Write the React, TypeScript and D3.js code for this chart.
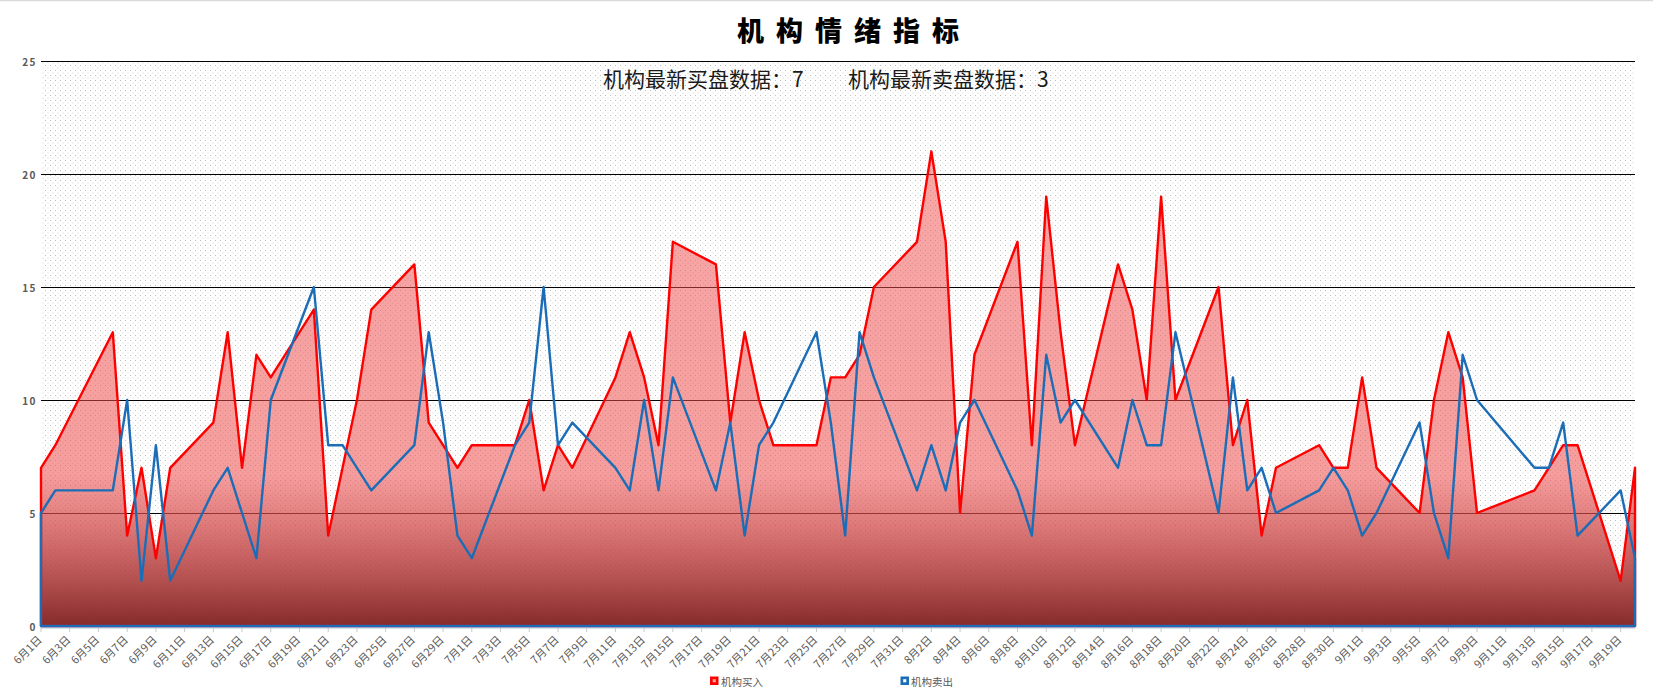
import React from "react";
import * as d3 from "d3";

// ---- data (2022, trading days) ----
const tradeDates = [
  "6/1", "6/2", "6/6", "6/7", "6/8", "6/9", "6/10", "6/13", "6/14", "6/15", "6/16", "6/17",
  "6/20", "6/21", "6/22", "6/23", "6/24", "6/27", "6/28", "6/29", "6/30",
  "7/1", "7/4", "7/5", "7/6", "7/7", "7/8", "7/11", "7/12", "7/13", "7/14", "7/15",
  "7/18", "7/19", "7/20", "7/21", "7/22", "7/25", "7/26", "7/27", "7/28", "7/29",
  "8/1", "8/2", "8/3", "8/4", "8/5", "8/8", "8/9", "8/10", "8/11", "8/12",
  "8/15", "8/16", "8/17", "8/18", "8/19", "8/22", "8/23", "8/24", "8/25", "8/26",
  "8/29", "8/30", "8/31", "9/1", "9/2", "9/5", "9/6", "9/7", "9/8", "9/9",
  "9/13", "9/14", "9/15", "9/16", "9/19", "9/20",
];

const buyValues = [
  7, 8, 13, 4, 7, 3, 7, 9, 13, 7, 12, 11,
  14, 4, 7, 10, 14, 16, 9, 8, 7,
  8, 8, 10, 6, 8, 7, 11, 13, 11, 8, 17,
  16, 9, 13, 10, 8, 8, 11, 11, 12, 15,
  17, 21, 17, 5, 12, 17, 8, 19, 13, 8,
  16, 14, 10, 19, 10, 15, 8, 10, 4, 7,
  8, 7, 7, 11, 7, 5, 10, 13, 11, 5,
  6, 7, 8, 8, 2, 7,
];

const sellValues = [
  5, 6, 6, 10, 2, 8, 2, 6, 7, 5, 3, 10,
  15, 8, 8, 7, 6, 8, 13, 9, 4,
  3, 8, 9, 15, 8, 9, 7, 6, 10, 6, 11,
  6, 9, 4, 8, 9, 13, 9, 4, 13, 11,
  6, 8, 6, 9, 10, 6, 4, 12, 9, 10,
  7, 10, 8, 8, 13, 5, 11, 6, 7, 5,
  6, 7, 6, 4, 5, 9, 5, 3, 12, 10,
  7, 7, 9, 4, 6, 3,
];

const yTicks = [0, 5, 10, 15, 20, 25];
const axisStart = "6/1";
const axisEnd = "9/20";
const year = 2022;
const titleText = "机构情绪指标";
const seriesNames = ["机构买入", "机构卖出"];
const latestLabels = ["机构最新买盘数据：", "机构最新卖盘数据："];

// ---- layout ----
const W = 1653;
const H = 695;
const plotLeft = 41;
const plotRight = 1635;
const plotTop = 61;
const plotBottom = 626;
const FONT = "'Noto Sans CJK SC', 'Noto Sans', sans-serif";

const parse = (s: string) => {
  const [m, d] = s.split("/").map(Number);
  return new Date(Date.UTC(year, m - 1, d));
};

export default function App() {
  const start = parse(axisStart);
  const end = parse(axisEnd);
  const x = d3.scaleUtc().domain([start, end]).range([plotLeft, plotRight]);
  const y = d3.scaleLinear().domain([0, 25]).range([plotBottom, plotTop]);

  const buy = tradeDates.map((d, i) => ({ date: parse(d), v: buyValues[i] }));
  const sell = tradeDates.map((d, i) => ({ date: parse(d), v: sellValues[i] }));

  const area = d3
    .area<{ date: Date; v: number }>()
    .x((d) => x(d.date))
    .y0(y(0))
    .y1((d) => y(d.v));

  const ticks = d3.utcDay.range(start, d3.utcDay.offset(end, 1), 2);
  const fmt = d3.utcFormat("%-m月%-d日");

  const buyMax = d3.max(buyValues) as number;
  const latestBuy = buyValues[buyValues.length - 1];
  const latestSell = sellValues[sellValues.length - 1];

  return (
    <div style={{ position: "fixed", left: 0, top: 0, width: W, height: H, background: "#fff" }}>
      <svg width={W} height={H} style={{ display: "block" }}>
        <defs>
          <pattern id="dots" width={5} height={5} patternUnits="userSpaceOnUse">
            <rect width={5} height={5} fill="#ffffff" />
            <rect x={0} y={0} width={1} height={1} fill="#bdbdbd" />
            <rect x={2.5} y={2.5} width={1} height={1} fill="#d6d6d6" />
          </pattern>
          <linearGradient
            id="buyGrad"
            gradientUnits="userSpaceOnUse"
            x1={0}
            x2={0}
            y1={y(buyMax)}
            y2={y(0)}
          >
            <stop offset="0" stopColor="rgb(242,80,80)" stopOpacity={0.5} />
            <stop offset="0.68" stopColor="rgb(238,78,78)" stopOpacity={0.55} />
            <stop offset="0.85" stopColor="rgb(192,72,72)" stopOpacity={0.85} />
            <stop offset="1" stopColor="rgb(134,42,42)" stopOpacity={1} />
          </linearGradient>
        </defs>

        {/* frame top line */}
        <line x1={0} x2={W} y1={0.5} y2={0.5} stroke="#d9d9d9" strokeWidth={1.5} />

        {/* title */}
        <text
          x={737}
          y={29}
          fontFamily={FONT}
          fontSize={27}
          fontWeight={900}
          letterSpacing={12}
          dominantBaseline="central"
          fill="#000"
        >
          {titleText}
        </text>

        {/* plot background */}
        <rect
          x={plotLeft}
          y={plotTop}
          width={plotRight - plotLeft}
          height={plotBottom - plotTop}
          fill="url(#dots)"
        />

        {/* gridlines */}
        {yTicks
          .filter((t) => t > 0)
          .map((t) => (
            <line
              key={t}
              x1={plotLeft}
              x2={plotRight}
              y1={Math.round(y(t)) + 0.5}
              y2={Math.round(y(t)) + 0.5}
              stroke="#000"
              strokeWidth={1}
              shapeRendering="crispEdges"
            />
          ))}

        {/* subtitle (latest values) */}
        <text x={603} y={77.5} fontFamily={FONT} fontSize={21} dominantBaseline="central" fill="#1a1a1a">
          {latestLabels[0] + latestBuy}
        </text>
        <text x={848} y={77.5} fontFamily={FONT} fontSize={21} dominantBaseline="central" fill="#1a1a1a">
          {latestLabels[1] + latestSell}
        </text>

        {/* y labels */}
        {yTicks.map((t) => (
          <text
            key={t}
            x={37}
            y={y(t)}
            textAnchor="end"
            dominantBaseline="central"
            fontFamily={FONT}
            fontSize={10}
            fontWeight={700}
            letterSpacing={1.5}
            fill="#595959"
          >
            {t}
          </text>
        ))}

        {/* x axis line + ticks */}
        <line x1={plotLeft} x2={plotRight} y1={plotBottom + 2} y2={plotBottom + 2} stroke="#a9cbea" strokeWidth={1} />
        {ticks.map((t, i) => (
          <line
            key={i}
            x1={x(t)}
            x2={x(t)}
            y1={plotBottom + 2}
            y2={plotBottom + 6}
            stroke="#c8c8c8"
            strokeWidth={1}
          />
        ))}

        {/* areas */}
        <path
          d={area(buy) as string}
          fill="url(#buyGrad)"
          stroke="#ff0000"
          strokeWidth={2.4}
          strokeLinejoin="round"
        />
        <path
          d={area(sell) as string}
          fill="none"
          stroke="#1b6db7"
          strokeWidth={2.4}
          strokeLinejoin="round"
        />

        {/* x labels */}
        {ticks.map((t, i) => (
          <text
            key={i}
            transform={`translate(${x(t) - 2},${plotBottom + 11}) rotate(-45)`}
            textAnchor="end"
            dominantBaseline="central"
            fontFamily={FONT}
            fontSize={11}
            fill="#595959"
          >
            {fmt(t)}
          </text>
        ))}

        {/* legend */}
        <rect x={710} y={676.5} width={8.5} height={8.5} fill="#ff0000" />
        <rect x={712.7} y={679.2} width={3.1} height={3.1} fill="#f6a3a3" />
        <text x={721} y={681} fontFamily={FONT} fontSize={10.5} dominantBaseline="central" fill="#595959">
          {seriesNames[0]}
        </text>
        <rect x={900.5} y={676.5} width={8.5} height={8.5} fill="#1b6db7" />
        <rect x={903.2} y={679.2} width={3.1} height={3.1} fill="#ffffff" />
        <text x={911} y={681} fontFamily={FONT} fontSize={10.5} dominantBaseline="central" fill="#595959">
          {seriesNames[1]}
        </text>
      </svg>
    </div>
  );
}
